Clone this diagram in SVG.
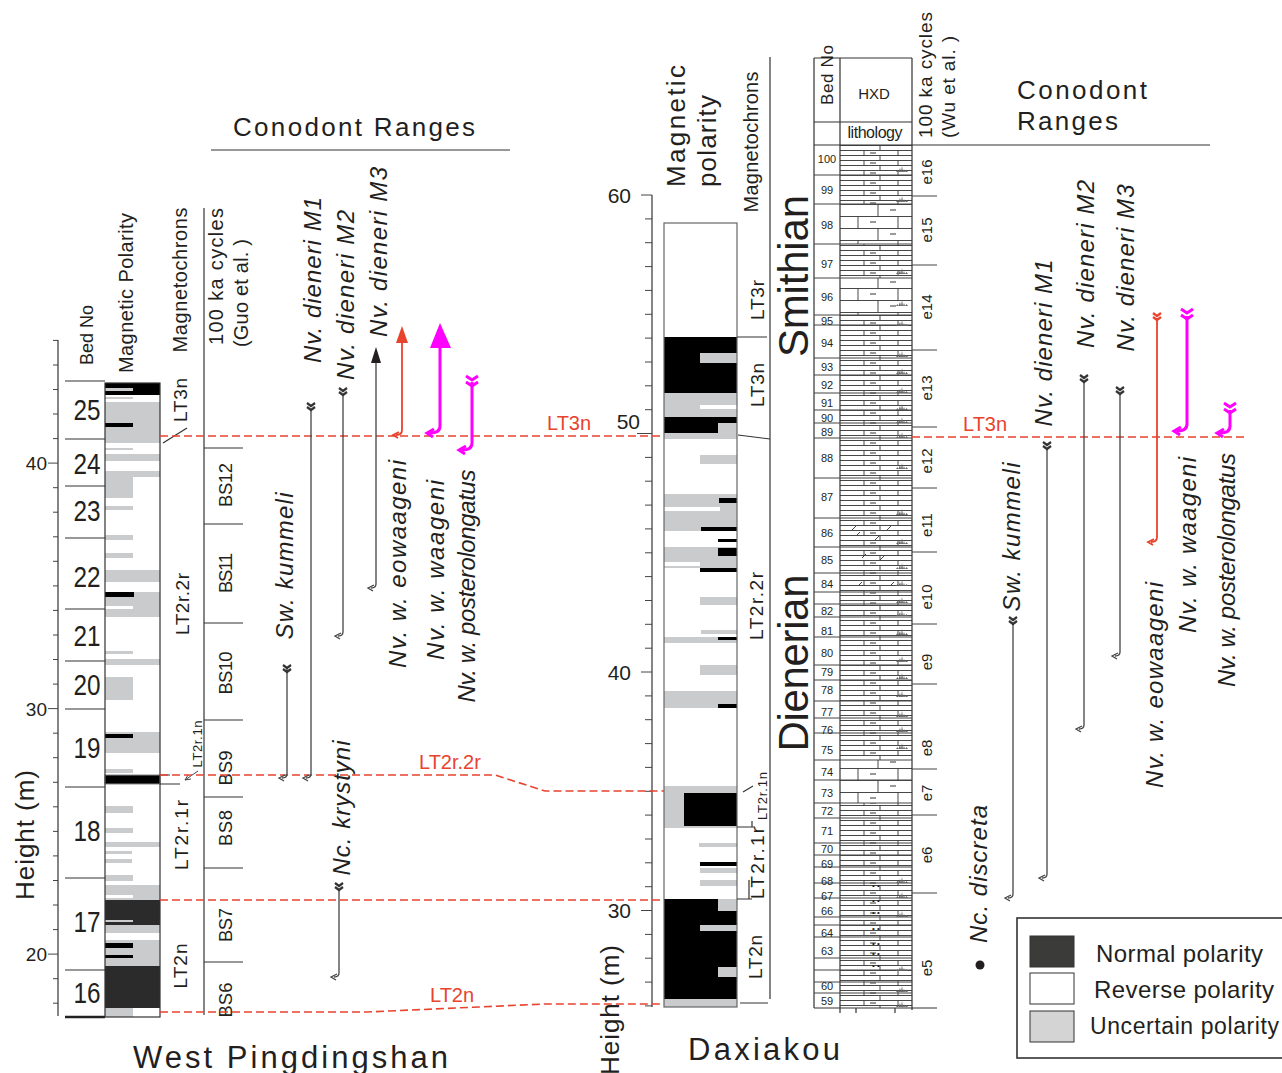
<svg xmlns="http://www.w3.org/2000/svg" width="1282" height="1073" viewBox="0 0 1282 1073">
<style>
text{font-family:"Liberation Sans",Arial,sans-serif;fill:#231f20}
.r{text-anchor:middle;dominant-baseline:central}
.s{dominant-baseline:central}
.it{font-style:italic;font-size:24px}
.hd{font-size:20px}
.red{fill:#e8432d;font-size:20px}
.ln{stroke:#333;stroke-width:1.2;fill:none}
.tn{stroke:#444;stroke-width:1;fill:none}
.dash{stroke:#e8432d;stroke-width:1.6;stroke-dasharray:8 4;fill:none}
.g{fill:#c9cbcc}
.k{fill:#000}
.d{fill:#2b2b2b}
.w{fill:#fff}
.rng{stroke:#444;stroke-width:1.3;fill:none}
.chev{stroke:#333;stroke-width:2.2;fill:none}
.rr{stroke:#e8432d;stroke-width:1.8;fill:none}
.mg{stroke:#ff00ff;stroke-width:3;fill:none}
</style>
<defs>
<pattern id="pt" patternUnits="userSpaceOnUse" x="840" y="0" width="72" height="10">
<path d="M0,0.5H72M0,5.5H72M24,0.5V5.5M58,0.5V5.5M40,5.5V10.5" stroke="#333" stroke-width="0.9" fill="none"/>
<path d="M30,3H36" stroke="#333" stroke-width="1"/>
</pattern>
<pattern id="pk" patternUnits="userSpaceOnUse" x="840" y="0" width="72" height="24">
<path d="M0,0.5H72M0,12.5H72M18,0.5V12.5M58,0.5V12.5M38,12.5V24.5" stroke="#333" stroke-width="0.9" fill="none"/>
<path d="M30,6H36M50,18H56" stroke="#333" stroke-width="1"/>
</pattern>
<symbol id="bio" viewBox="0 0 12 6" width="12" height="6"><path d="M0,6L1.5,4L2.5,6L4,2L5,6L6,0L7,6L8,3L9,6L10.5,4L12,6Z" fill="#666"/></symbol>
</defs>

<!-- ============ WEST PINGDINGSHAN ============ -->
<g id="wp-axis">
<path class="ln" d="M58,340V1016"/>
<path class="tn" d="M53,340.4H58M53,365H58M53,389.5H58M53,414H58M53,438.6H58M48,463.1H58M53,487.7H58M53,512.2H58M53,536.8H58M53,561.3H58M53,585.9H58M53,610.4H58M53,635H58M53,659.5H58M53,684.1H58M48,708.6H58M53,733.2H58M53,757.7H58M53,782.3H58M53,806.8H58M53,831.4H58M53,855.9H58M53,880.5H58M53,905H58M53,929.6H58M48,954.1H58M53,978.7H58M53,1003.2H58"/>
<text x="47" y="463" class="s" text-anchor="end" font-size="19">40</text>
<text x="47" y="709" class="s" text-anchor="end" font-size="19">30</text>
<text x="47" y="954" class="s" text-anchor="end" font-size="19">20</text>
<text class="r" font-size="26" transform="translate(25,835) rotate(-90)" textLength="130">Height (m)</text>
</g>

<g id="wp-beds">
<path class="ln" d="M65,381H105M65,439H105M65,486H105M65,538H105M65,609H105M65,661H105M65,709H105M65,787H105M65,878H105M65,970H105"/>
<path stroke="#222" stroke-width="2.5" d="M65,1017H105"/>
<g font-size="29">
<text class="r" x="87" y="410" textLength="27" lengthAdjust="spacingAndGlyphs">25</text>
<text class="r" x="87" y="464" textLength="27" lengthAdjust="spacingAndGlyphs">24</text>
<text class="r" x="87" y="511" textLength="27" lengthAdjust="spacingAndGlyphs">23</text>
<text class="r" x="87" y="577" textLength="27" lengthAdjust="spacingAndGlyphs">22</text>
<text class="r" x="87" y="636" textLength="27" lengthAdjust="spacingAndGlyphs">21</text>
<text class="r" x="87" y="685" textLength="27" lengthAdjust="spacingAndGlyphs">20</text>
<text class="r" x="87" y="748" textLength="27" lengthAdjust="spacingAndGlyphs">19</text>
<text class="r" x="87" y="831" textLength="27" lengthAdjust="spacingAndGlyphs">18</text>
<text class="r" x="87" y="922" textLength="27" lengthAdjust="spacingAndGlyphs">17</text>
<text class="r" x="87" y="993" textLength="27" lengthAdjust="spacingAndGlyphs">16</text>
</g>
<text class="r" font-size="18" transform="translate(87,335) rotate(-90)" textLength="60">Bed No</text>
</g>

<g id="wp-polarity">
<rect x="105" y="383" width="55" height="634" fill="#fff"/>
<rect class="k" x="105" y="383" width="55" height="12"/>
<rect class="g" x="105" y="388" width="28" height="3"/>
<rect class="g" x="105" y="397" width="28" height="2"/>
<rect class="g" x="105" y="402" width="55" height="41"/>
<rect class="k" x="105" y="423" width="28" height="4"/>
<rect class="g" x="105" y="448" width="28" height="2"/>
<rect class="g" x="105" y="454" width="55" height="7"/>
<rect class="g" x="105" y="471" width="55" height="6"/>
<rect class="g" x="105" y="477" width="28" height="21"/>
<rect class="g" x="105" y="506" width="28" height="4"/>
<rect class="g" x="105" y="535" width="28" height="5"/>
<rect class="g" x="105" y="553" width="28" height="5"/>
<rect class="g" x="105" y="570" width="55" height="12"/>
<rect class="g" x="105" y="592" width="55" height="25"/>
<rect class="k" x="105" y="592" width="29" height="5"/>
<rect class="w" x="105" y="606" width="28" height="3"/>
<rect class="g" x="105" y="651" width="28" height="3"/>
<rect class="g" x="105" y="659" width="55" height="6"/>
<rect class="g" x="105" y="677" width="28" height="23"/>
<rect class="g" x="105" y="732" width="55" height="21"/>
<rect class="k" x="105" y="734" width="28" height="4"/>
<rect class="g" x="105" y="769" width="28" height="4"/>
<rect class="k" x="105" y="775" width="55" height="9" stroke="#888" stroke-width="1"/>
<rect class="g" x="105" y="806" width="28" height="7"/>
<rect class="g" x="105" y="828" width="28" height="5"/>
<rect class="g" x="105" y="842" width="55" height="5"/>
<rect class="g" x="105" y="851" width="27" height="3"/>
<rect class="g" x="105" y="859" width="27" height="4"/>
<rect class="g" x="105" y="875" width="28" height="6"/>
<rect class="g" x="105" y="885" width="55" height="15"/>
<rect class="w" x="105" y="895" width="28" height="3"/>
<rect class="d" x="105" y="900" width="55" height="25"/>
<rect class="g" x="105" y="920" width="28" height="2"/>
<rect class="g" x="105" y="925" width="55" height="8"/>
<rect class="g" x="105" y="940" width="55" height="26"/>
<rect class="k" x="105" y="943" width="28" height="5"/>
<rect class="k" x="105" y="955" width="28" height="3"/>
<rect class="d" x="105" y="966" width="55" height="42"/>
<rect class="g" x="105" y="1008" width="28" height="9"/>
<rect x="105" y="383" width="55" height="634" fill="none" stroke="#333" stroke-width="1.2"/>
<text class="r" font-size="20" transform="translate(126,293) rotate(-90)" textLength="160">Magnetic Polarity</text>
</g>

<g id="wp-chrons">
<text class="r" font-size="20" transform="translate(180,280) rotate(-90)" textLength="145">Magnetochrons</text>
<text class="r" font-size="19" transform="translate(180,400) rotate(-90)" textLength="44">LT3n</text>
<text class="r" font-size="19" transform="translate(182,604) rotate(-90)" textLength="62">LT2r.2r</text>
<text class="r" font-size="19" transform="translate(181,835) rotate(-90)" textLength="70">LT2r.1r</text>
<text class="r" font-size="19" transform="translate(180,966) rotate(-90)" textLength="45">LT2n</text>
<text class="r" font-size="13" transform="translate(197,744) rotate(-90)" textLength="47">LT2r.1n</text>
<path class="ln" d="M163,443L187,428"/>
<path class="ln" d="M160,775H170M160,784H180"/>
<path class="tn" d="M198,771L185,780M185,780L191,779M185,780L188,775"/>
</g>

<g id="wp-cycles">
<path class="ln" d="M204,208V1015"/>
<path class="ln" d="M204,448H243M204,524H243M204,623H243M204,720H243M204,797H243M204,868H243M204,962H243"/>
<text class="s" font-size="20" transform="translate(216,345) rotate(-90)" textLength="137">100 ka cycles</text>
<text class="s" font-size="20" transform="translate(241,347) rotate(-90)" textLength="108">(Guo et al. )</text>
<g font-size="18.5">
<text class="r" transform="translate(225,485) rotate(-90)" textLength="44">BS12</text>
<text class="r" transform="translate(225,573) rotate(-90)" textLength="40">BS11</text>
<text class="r" transform="translate(225,673) rotate(-90)" textLength="43">BS10</text>
<text class="r" transform="translate(225,768) rotate(-90)" textLength="35">BS9</text>
<text class="r" transform="translate(225,828) rotate(-90)" textLength="36">BS8</text>
<text class="r" transform="translate(225,925) rotate(-90)" textLength="34">BS7</text>
<text class="r" transform="translate(225,1000) rotate(-90)" textLength="35">BS6</text>
</g>
</g>

<g id="wp-conodonts">
<text x="233" y="136" font-size="26" textLength="242">Conodont Ranges</text>
<path class="ln" d="M211,150H510"/>
<text class="r it" transform="translate(284,566) rotate(-90)" textLength="147">Sw. kummeli</text>
<text class="r it" transform="translate(312,280) rotate(-90)" textLength="166">Nv.  dieneri M1</text>
<text class="r it" transform="translate(345,295) rotate(-90)" textLength="170">Nv.  dieneri M2</text>
<text class="r it" transform="translate(378,252) rotate(-90)" textLength="170">Nv.  dieneri M3</text>
<text class="r it" transform="translate(341,808) rotate(-90)" textLength="135">Nc. krystyni</text>
<text class="r it" transform="translate(397,564) rotate(-90)" textLength="208">Nv. w. eowaageni</text>
<text class="r it" transform="translate(435,570) rotate(-90)" textLength="180">Nv. w. waageni</text>
<text class="r it" transform="translate(466,586) rotate(-90)" textLength="233">Nv. w. posterolongatus</text>
</g>

<!-- ============ DAXIAKOU ============ -->
<g id="dx-axis">
<path class="ln" d="M652,195V1007"/>
<path class="tn" d="M641,195H652M645,218.9H652M645,242.7H652M645,266.6H652M645,290.4H652M645,314.3H652M645,338.1H652M645,362H652M645,385.8H652M645,409.7H652M637,433.5H652M645,457.4H652M645,481.2H652M645,505.1H652M645,528.9H652M645,552.8H652M645,576.6H652M645,600.5H652M645,624.3H652M645,648.2H652M641,672H652M645,695.9H652M645,719.7H652M645,743.6H652M645,767.4H652M645,791.3H652M645,815.1H652M645,839H652M645,862.8H652M645,886.7H652M641,910.5H652M645,934.4H652M645,958.2H652M645,982.1H652M645,1005.9H652"/>
<text x="631" y="195" class="s" text-anchor="end" font-size="21">60</text>
<text x="640" y="421" class="s" text-anchor="end" font-size="21">50</text>
<text x="631" y="672" class="s" text-anchor="end" font-size="21">40</text>
<text x="631" y="910" class="s" text-anchor="end" font-size="21">30</text>
<text class="r" font-size="26" transform="translate(610,1010) rotate(-90)" textLength="130">Height (m)</text>
</g>

<g id="dx-polarity">
<rect x="664" y="223" width="73" height="784" fill="#fff"/>
<rect class="k" x="664" y="337" width="73" height="56"/>
<rect class="g" x="700" y="353" width="37" height="10"/>
<rect class="g" x="664" y="393" width="73" height="24"/>
<rect class="w" x="700" y="405" width="37" height="4"/>
<rect class="k" x="664" y="417" width="73" height="16"/>
<rect class="g" x="718" y="423" width="19" height="10"/>
<rect class="g" x="664" y="433" width="73" height="6"/>
<rect class="g" x="700" y="455" width="37" height="9"/>
<rect class="g" x="664" y="494" width="73" height="37"/>
<rect class="k" x="719" y="498" width="18" height="5"/>
<rect class="w" x="664" y="507" width="56" height="4"/>
<rect class="k" x="701" y="527" width="36" height="4"/>
<rect class="k" x="718" y="539" width="19" height="3"/>
<rect class="g" x="664" y="547" width="73" height="21"/>
<rect class="k" x="718" y="548" width="19" height="8"/>
<rect class="w" x="664" y="562" width="36" height="4"/>
<rect class="k" x="700" y="568" width="37" height="4"/>
<rect class="g" x="700" y="597" width="37" height="8"/>
<rect class="g" x="701" y="630" width="36" height="4"/>
<rect class="g" x="664" y="637" width="73" height="6"/>
<rect class="k" x="718" y="637" width="19" height="3"/>
<rect class="g" x="700" y="665" width="37" height="10"/>
<rect class="g" x="664" y="691" width="73" height="17"/>
<rect class="k" x="718" y="704" width="19" height="4"/>
<rect class="g" x="664" y="786" width="73" height="42"/>
<rect class="k" x="684" y="793" width="53" height="33"/>
<rect class="g" x="699" y="843" width="38" height="4"/>
<rect class="k" x="700" y="862" width="37" height="4"/>
<rect class="g" x="700" y="868" width="37" height="5"/>
<rect class="g" x="700" y="880" width="37" height="6"/>
<rect class="k" x="664" y="899" width="73" height="100"/>
<rect class="g" x="718" y="899" width="19" height="12"/>
<rect class="g" x="700" y="925" width="37" height="6"/>
<rect class="g" x="718" y="967" width="19" height="10"/>
<rect class="g" x="664" y="999" width="73" height="8"/>
<rect x="664" y="223" width="73" height="784" fill="none" stroke="#666" stroke-width="1.2"/>
<text class="s" font-size="26" transform="translate(676,187) rotate(-90)" textLength="122">Magnetic</text>
<text class="s" font-size="26" transform="translate(707,187) rotate(-90)" textLength="92">polarity</text>
</g>

<g id="dx-chrons">
<text class="r" font-size="20" transform="translate(751,142) rotate(-90)" textLength="141">Magnetochrons</text>
<path class="ln" d="M770,57V999"/>
<path class="ln" d="M737,337H767M738,435L770,439"/>
<path class="ln" d="M743,792L753,786M737,827H755M752,821V827M737,899H752M749,880V899M740,1003H768"/>
<text class="r" font-size="19" transform="translate(757,300) rotate(-90)" textLength="40">LT3r</text>
<text class="r" font-size="19" transform="translate(757,385) rotate(-90)" textLength="44">LT3n</text>
<text class="r" font-size="19" transform="translate(756,606) rotate(-90)" textLength="68">LT2r.2r</text>
<text class="r" font-size="13" transform="translate(762,796) rotate(-90)" textLength="48">LT2r.1n</text>
<text class="r" font-size="19" transform="translate(757,863) rotate(-90)" textLength="72">LT2r.1r</text>
<text class="r" font-size="19" transform="translate(755,957) rotate(-90)" textLength="44">LT2n</text>
<text class="r" font-size="42" transform="translate(793,276) rotate(-90)" textLength="162">Smithian</text>
<text class="r" font-size="42" transform="translate(793,663) rotate(-90)" textLength="177">Dienerian</text>
</g>

<g id="hxd-column">
<rect x="840" y="145" width="72" height="33" fill="url(#pt)"/>
<rect x="840" y="178" width="72" height="26" fill="url(#pt)"/>
<rect x="840" y="204" width="72" height="40" fill="url(#pk)"/>
<rect x="840" y="244" width="72" height="34" fill="url(#pt)"/>
<rect x="840" y="278" width="72" height="37" fill="url(#pk)"/>
<rect x="840" y="315" width="72" height="445" fill="url(#pt)"/>
<rect x="840" y="760" width="72" height="43" fill="url(#pk)"/>
<rect x="840" y="803" width="72" height="205" fill="url(#pt)"/>
<path class="ln" d="M814,58H912M814,122H912M814,145H1210M814,58V1008M840,58V1013M912,58V1010M814,1008H937M856,1008V1013M895,1008V1013"/>
<path class="tn" d="M814,175H912M814,204H912M814,244H912M814,278H912M814,315H912M814,325H912M814,358H912M814,375H912M814,393H912M814,410H912M814,423H912M814,438H912M814,478H912M814,518H912M814,547H912M814,573H912M814,592H912M814,604H912M814,617H912M814,637H912M814,665H912M814,680H912M814,701H912M814,718H912M814,733H912M814,760H912M814,780H912M814,803H912M814,818H912M814,843H912M814,855H912M814,867H912M814,883H912M814,898H912M814,917H912M814,925H912M814,937H912M814,958H912M814,970H912M814,982H912M814,993H912"/>
<g fill="#444" font-size="11">
<path class="tn" d="M856,536l4,-4M875,540l4,-4M862,558l4,-4M880,560l4,-4M858,586l4,-4M890,586l4,-4M852,530l4,-4M887,530l4,-4"/>
<text x="872" y="888" font-size="8">• •</text><text x="872" y="903" font-size="8">• •</text><text x="872" y="915" font-size="8">• •</text><text x="872" y="931" font-size="8">• •</text><text x="872" y="946" font-size="8">• •</text><text x="872" y="956" font-size="8">• •</text><text x="872" y="968" font-size="8">• •</text>
</g>
<g>
<use href="#bio" x="896" y="166"/><use href="#bio" x="896" y="196"/><use href="#bio" x="896" y="268"/><use href="#bio" x="896" y="300"/><use href="#bio" x="896" y="320"/><use href="#bio" x="896" y="351"/><use href="#bio" x="896" y="368"/><use href="#bio" x="896" y="387"/><use href="#bio" x="896" y="404"/><use href="#bio" x="896" y="417"/><use href="#bio" x="896" y="432"/><use href="#bio" x="896" y="463"/><use href="#bio" x="896" y="509"/><use href="#bio" x="896" y="538"/><use href="#bio" x="896" y="563"/><use href="#bio" x="896" y="580"/><use href="#bio" x="896" y="597"/><use href="#bio" x="896" y="610"/><use href="#bio" x="896" y="629"/><use href="#bio" x="896" y="656"/><use href="#bio" x="896" y="673"/><use href="#bio" x="896" y="691"/><use href="#bio" x="896" y="711"/><use href="#bio" x="896" y="726"/><use href="#bio" x="896" y="743"/><use href="#bio" x="896" y="877"/><use href="#bio" x="896" y="892"/><use href="#bio" x="896" y="911"/><use href="#bio" x="896" y="965"/><use href="#bio" x="896" y="986"/><use href="#bio" x="896" y="1001"/>
</g>
<g font-size="11" class="r">
<text class="r" x="827" y="159">100</text><text class="r" x="827" y="190">99</text><text class="r" x="827" y="225">98</text><text class="r" x="827" y="264">97</text><text class="r" x="827" y="297">96</text><text class="r" x="827" y="321">95</text><text class="r" x="827" y="343">94</text><text class="r" x="827" y="367">93</text><text class="r" x="827" y="385">92</text><text class="r" x="827" y="403">91</text><text class="r" x="827" y="418">90</text><text class="r" x="827" y="432">89</text><text class="r" x="827" y="458">88</text><text class="r" x="827" y="497">87</text><text class="r" x="827" y="533">86</text><text class="r" x="827" y="560">85</text><text class="r" x="827" y="584">84</text><text class="r" x="827" y="611">82</text><text class="r" x="827" y="631">81</text><text class="r" x="827" y="653">80</text><text class="r" x="827" y="672">79</text><text class="r" x="827" y="690">78</text><text class="r" x="827" y="712">77</text><text class="r" x="827" y="730">76</text><text class="r" x="827" y="750">75</text><text class="r" x="827" y="772">74</text><text class="r" x="827" y="793">73</text><text class="r" x="827" y="811">72</text><text class="r" x="827" y="831">71</text><text class="r" x="827" y="849">70</text><text class="r" x="827" y="864">69</text><text class="r" x="827" y="881">68</text><text class="r" x="827" y="896">67</text><text class="r" x="827" y="911">66</text><text class="r" x="827" y="933">64</text><text class="r" x="827" y="951">63</text><text class="r" x="827" y="986">60</text><text class="r" x="827" y="1001">59</text>
</g>
<text class="r" font-size="17" transform="translate(827,75) rotate(-90)" textLength="60">Bed No</text>
<text class="r" x="874" y="93" font-size="15">HXD</text>
<text class="r" x="875" y="132" font-size="16" textLength="55">lithology</text>
</g>

<g id="hxd-cycles">
<path class="tn" d="M912,196H937M912,265H937M912,350H937M912,427H937M912,488H937M912,552H937M912,624H937M912,684H937M912,769H937M912,815H937M912,893H937"/>
<text class="s" font-size="19" transform="translate(925,138) rotate(-90)" textLength="126">100 ka cycles</text>
<text class="s" font-size="19" transform="translate(948,138) rotate(-90)" textLength="102">(Wu et al. )</text>
<g font-size="15">
<text class="r" transform="translate(926,172) rotate(-90)">e16</text>
<text class="r" transform="translate(926,230) rotate(-90)">e15</text>
<text class="r" transform="translate(926,307) rotate(-90)">e14</text>
<text class="r" transform="translate(926,388) rotate(-90)">e13</text>
<text class="r" transform="translate(926,461) rotate(-90)">e12</text>
<text class="r" transform="translate(926,525) rotate(-90)">e11</text>
<text class="r" transform="translate(926,597) rotate(-90)">e10</text>
<text class="r" transform="translate(926,662) rotate(-90)">e9</text>
<text class="r" transform="translate(926,748) rotate(-90)">e8</text>
<text class="r" transform="translate(926,793) rotate(-90)">e7</text>
<text class="r" transform="translate(926,855) rotate(-90)">e6</text>
<text class="r" transform="translate(926,968) rotate(-90)">e5</text>
</g>
</g>

<g id="dx-conodonts">
<text x="1017" y="99" font-size="26" textLength="130">Conodont</text>
<text x="1017" y="130" font-size="26" textLength="101">Ranges</text>
<text class="r it" transform="translate(1043,343) rotate(-90)" textLength="167">Nv.  dieneri M1</text>
<text class="r it" transform="translate(1085,264) rotate(-90)" textLength="168">Nv.  dieneri M2</text>
<text class="r it" transform="translate(1125,268) rotate(-90)" textLength="167">Nv.  dieneri M3</text>
<text class="r it" transform="translate(1011,537) rotate(-90)" textLength="149">Sw. kummeli</text>
<text class="r it" transform="translate(1154,685) rotate(-90)" textLength="206">Nv. w. eowaageni</text>
<text class="r it" transform="translate(1187,545) rotate(-90)" textLength="176">Nv. w. waageni</text>
<text class="r it" transform="translate(1226,570) rotate(-90)" textLength="234">Nv. w. posterolongatus</text>
<text class="r it" transform="translate(978,874) rotate(-90)" textLength="138">Nc. discreta</text>
<circle cx="980" cy="965" r="4.5" fill="#231f20"/>
</g>

<!-- ============ CONNECTORS: ranges and correlation lines ============ -->
<g id="connectors">
<path class="dash" d="M160,436H664"/>
<path class="dash" d="M912,437H1245"/>
<path class="dash" d="M160,775H495L545,791H664"/>
<path class="dash" d="M160,900H664"/>
<path class="dash" d="M160,1012H367L545,1004H664"/>
<text class="red" x="547" y="430">LT3n</text>
<text class="red" x="963" y="431">LT3n</text>
<text class="red" x="419" y="769">LT2r.2r</text>
<text class="red" x="430" y="1002">LT2n</text>

<path class="rng" d="M287,668V774Q287,778 282,778M285,775L279,778L284,781"/>
<path class="chev" d="M283,665l4,3l4,-3M283,669l4,3l4,-3"/>
<path class="rng" d="M311,409V774Q311,778 306,778M309,775L303,778L308,781"/>
<path class="chev" d="M307,403l4,3l4,-3M307,407l4,3l4,-3"/>
<path class="rng" d="M343,394V632Q343,636 338,636M341,633L335,636L340,639"/>
<path class="chev" d="M339,388l4,3l4,-3M339,392l4,3l4,-3"/>
<path class="rng" d="M376,360V584Q376,588 371,588M374,585L368,588L373,591"/>
<path fill="#231f20" d="M376,347L371,363L381,363Z"/>
<path class="rng" d="M339,889V973Q339,977 334,977M337,974L331,977L336,980"/>
<path class="chev" d="M335,883l4,3l4,-3M335,887l4,3l4,-3"/>
<path class="rr" d="M402,340V430Q402,435 396,435M399,432L393,435L398,438"/>
<path fill="#e8432d" d="M402,326L396,343L408,343Z"/>
<path class="mg" d="M440,345V426Q440,433 430,433M434,429L427,433L433,437"/>
<path fill="#ff00ff" d="M440,323L430,348L451,348Z"/>
<path class="mg" d="M472,382V443Q472,450 462,450M466,446L459,450L465,454"/>
<path class="mg" d="M466,376l6,4l6,-4M466,382l6,4l6,-4"/>

<path class="rng" d="M1047,448V874Q1047,878 1042,878M1045,875L1039,878L1044,881"/>
<path class="chev" d="M1043,442l4,3l4,-3M1043,446l4,3l4,-3"/>
<path class="rng" d="M1084,381V725Q1084,729 1079,729M1082,726L1076,729L1081,732"/>
<path class="chev" d="M1080,375l4,3l4,-3M1080,379l4,3l4,-3"/>
<path class="rng" d="M1120,393V652Q1120,656 1115,656M1118,653L1112,656L1117,659"/>
<path class="chev" d="M1116,387l4,3l4,-3M1116,391l4,3l4,-3"/>
<path class="rr" d="M1157,318V537Q1157,542 1151,542M1154,539L1148,542L1153,545"/>
<path class="chev" style="stroke:#e8432d" d="M1153,313l4,3l4,-3M1153,317l4,3l4,-3"/>
<path class="mg" d="M1187,316V424Q1187,431 1177,431M1181,427L1174,431L1180,435"/>
<path class="mg" d="M1181,309l6,4l6,-4M1181,315l6,4l6,-4"/>
<path class="mg" d="M1230,410V426Q1230,433 1220,433M1224,429L1217,433L1223,437"/>
<path class="mg" d="M1224,403l6,4l6,-4M1224,409l6,4l6,-4"/>
<path class="rng" d="M1013,623V894Q1013,898 1008,898M1011,895L1005,898L1010,901"/>
<path class="chev" d="M1009,617l4,3l4,-3M1009,621l4,3l4,-3"/>
</g>

<g id="legend">
<rect x="1017" y="918" width="280" height="140" fill="#fff" stroke="#333" stroke-width="1.6"/>
<rect x="1030" y="936" width="44" height="31" fill="#3b3b39" stroke="#333"/>
<rect x="1030" y="973" width="44" height="31" fill="#fff" stroke="#333"/>
<rect x="1030" y="1011" width="44" height="31" fill="#d4d4d4" stroke="#333"/>
<text class="s" x="1096" y="953" font-size="24" textLength="167">Normal polarity</text>
<text class="s" x="1094" y="989" font-size="24" textLength="180">Reverse polarity</text>
<text class="s" x="1090" y="1026" font-size="23" textLength="189">Uncertain polarity</text>
</g>

<g id="titles">
<text x="133" y="1068" font-size="31" textLength="315">West Pingdingshan</text>
<text x="688" y="1060" font-size="31" textLength="152">Daxiakou</text>
</g>
</svg>
